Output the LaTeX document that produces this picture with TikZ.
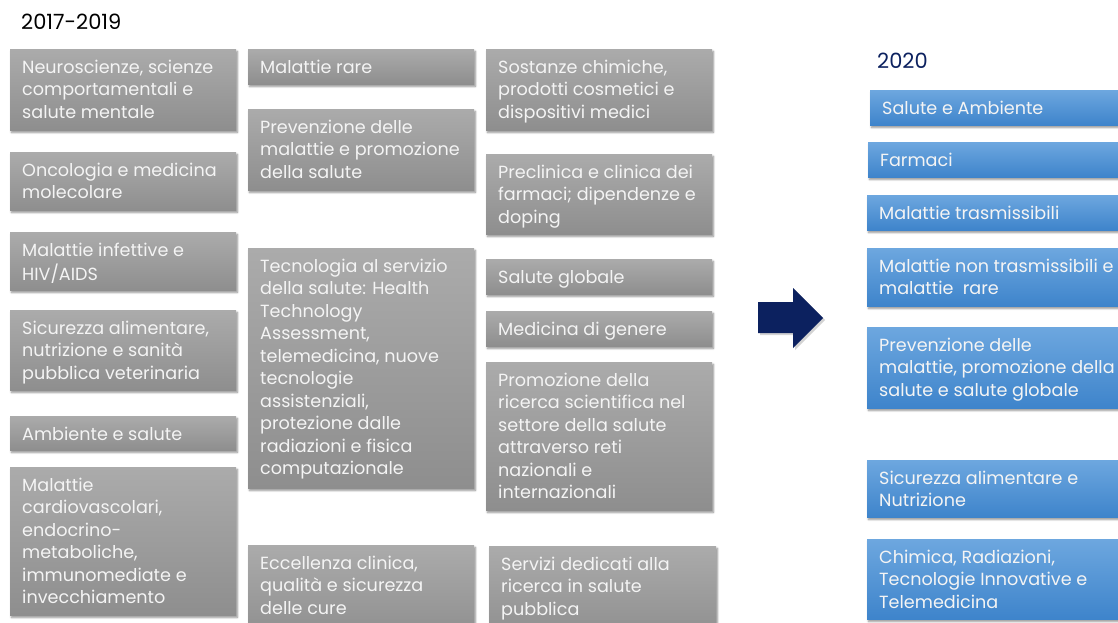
\documentclass[tikz,border=0pt]{standalone}
\usepackage{fontspec}
\setmainfont{Poppins}
\usetikzlibrary{shadows,shadows.blur}
\definecolor{grayTop}{HTML}{ABABAB}
\definecolor{grayBot}{HTML}{8E8E8E}
\definecolor{blueTop}{HTML}{6DA7DF}
\definecolor{blueBot}{HTML}{3E84CB}
\definecolor{navy}{HTML}{0C215F}
\definecolor{boxText}{HTML}{F4F4F4}
\tikzset{
  tile/.style={rectangle, inner sep=0pt, anchor=north west,
    blur shadow={shadow xshift=1.2pt, shadow yshift=-2.2pt, shadow blur steps=5, shadow opacity=45, shadow blur radius=2pt}},
  graytile/.style={tile, top color=grayTop, bottom color=grayBot},
  bluetile/.style={tile, top color=blueTop, bottom color=blueBot},
  tiletext/.style={anchor=north west, inner sep=0pt, align=left, text=boxText,
    font=\fontsize{17.6}{22.5}\selectfont},
  heading/.style={anchor=west, inner sep=0pt, font=\fontsize{21}{24}\selectfont},
}
% #1 name, #2 #3 top-left corner, #4 #5 bottom-right corner, #6 style, #7 text
\newcommand\tile[7]{%
  \node[#6, minimum width={#4pt-#2pt}, minimum height={#5pt-#3pt}] (#1) at (#2,#3) {};
  \node[tiletext] (#1-text) at ([xshift=12pt,yshift=-8.4pt]#1.north west) {\strut #7};
}
\begin{document}
\begin{tikzpicture}[x=1pt,y=-1pt]
\useasboundingbox (0,0) rectangle (1118,623);

\node[heading] (oldyears) at (21,22) {2017-2019};
\node[heading, text=navy] (newyears) at (877,61) {2020};

% first column
\tile{neuro}{10}{49}{236}{130}{graytile}{Neuroscienze, scienze\\comportamentali e\\salute mentale}
\tile{onco}{10}{152}{236}{210}{graytile}{Oncologia e medicina\\molecolare}
\tile{infett}{10}{232}{236}{290}{graytile}{Malattie infettive e\\HIV/AIDS}
\tile{sicur}{10}{310}{236}{390}{graytile}{Sicurezza alimentare,\\nutrizione e sanità\\pubblica veterinaria}
\tile{amb}{10}{416}{236}{450}{graytile}{Ambiente e salute}
\tile{cardio}{10}{467}{236}{615}{graytile}{Malattie\\cardiovascolari,\\endocrino-\\metaboliche,\\immunomediate e\\invecchiamento}

% second column
\tile{rare}{248}{49}{474}{84}{graytile}{Malattie rare}
\tile{prev}{248}{109}{474}{190}{graytile}{Prevenzione delle\\malattie e promozione\\della salute}
\tile{tecno}{248}{248}{474}{488}{graytile}{Tecnologia al servizio\\della salute: Health\\Technology\\Assessment,\\telemedicina, nuove\\tecnologie\\assistenziali,\\protezione dalle\\radiazioni e fisica\\computazionale}
\tile{eccel}{248}{545}{474}{640}{graytile}{Eccellenza clinica,\\qualità e sicurezza\\delle cure}

% third column
\tile{sost}{486}{49}{712}{130}{graytile}{Sostanze chimiche,\\prodotti cosmetici e\\dispositivi medici}
\tile{precl}{486}{154}{712}{234}{graytile}{Preclinica e clinica dei\\farmaci; dipendenze e\\doping}
\tile{glob}{486}{259}{712}{294}{graytile}{Salute globale}
\tile{genere}{486}{311}{712}{346}{graytile}{Medicina di genere}
\tile{promo}{486}{362}{712}{510}{graytile}{Promozione della\\ricerca scientifica nel\\settore della salute\\attraverso reti\\nazionali e\\internazionali}
\tile{serv}{489}{546}{716}{640}{graytile}{Servizi dedicati alla\\ricerca in salute\\pubblica}

% transition arrow
\path[fill=navy, drop shadow={shadow xshift=2pt, shadow yshift=-2pt, opacity=0.35}]
  (758,302) -- (793,302) -- (793,288) -- (823,318) -- (793,348) -- (793,333) -- (758,333) -- cycle;

% new areas
\tile{n1}{870}{90}{1135}{125}{bluetile}{Salute e Ambiente}
\tile{n2}{868}{142}{1135}{177}{bluetile}{Farmaci}
\tile{n3}{867}{195}{1135}{230}{bluetile}{Malattie trasmissibili}
\tile{n4}{867}{248}{1135}{306}{bluetile}{Malattie non trasmissibili e\\malattie~ rare}
\tile{n5}{867}{327}{1135}{408}{bluetile}{Prevenzione delle\\malattie, promozione della\\salute e salute globale}
\tile{n6}{867}{460}{1135}{517}{bluetile}{Sicurezza alimentare e\\Nutrizione}
\tile{n7}{867}{539}{1135}{619}{bluetile}{Chimica, Radiazioni,\\Tecnologie Innovative e\\Telemedicina}
\end{tikzpicture}
\end{document}
